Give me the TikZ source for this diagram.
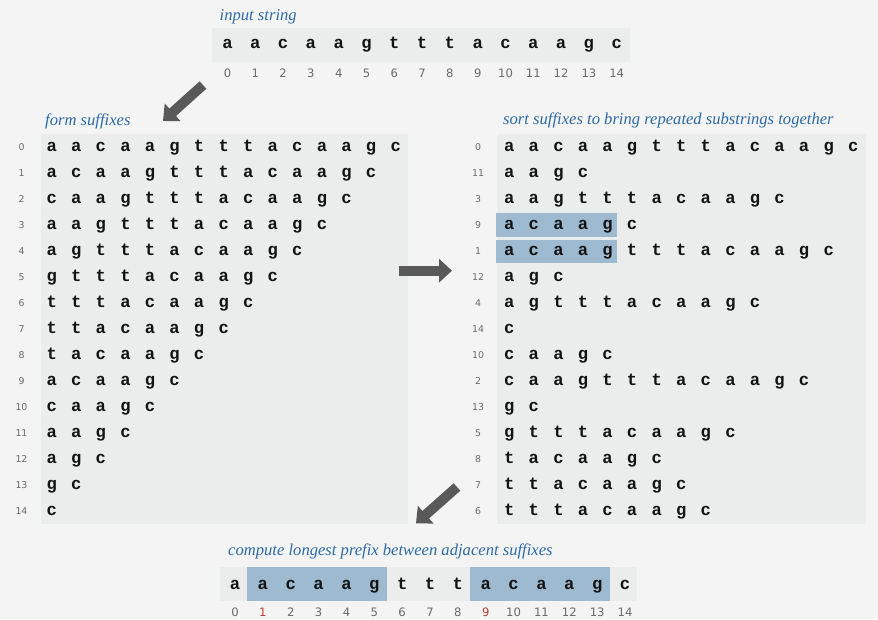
\documentclass[tikz,border=0pt]{standalone}
\usepackage{fontspec}
\setmainfont{Liberation Serif}
\newfontfamily\lettermono{Liberation Mono}
\newfontfamily\idxfont{DejaVu Sans}
\usetikzlibrary{arrows.meta}
\definecolor{bgcol}{HTML}{F4F4F4}
\definecolor{panelcol}{HTML}{EBECEC}
\definecolor{hicol}{HTML}{9EBAD0}
\definecolor{titlecol}{HTML}{2D6BA6}
\definecolor{idxcol}{HTML}{6A6A6A}
\definecolor{redidx}{HTML}{C43A3A}
\definecolor{arrowcol}{HTML}{595959}
\definecolor{lettercol}{HTML}{141414}
\tikzset{
  panel/.style={fill=panelcol, draw=none},
  hibox/.style={fill=hicol, draw=none},
  letter/.style={anchor=base, inner sep=0pt, text=lettercol, font=\lettermono\bfseries\fontsize{17.2}{19}\selectfont},
  bigidx/.style={anchor=base, inner sep=0pt, text=idxcol, font=\idxfont\fontsize{11.6}{13}\selectfont},
  smallidx/.style={anchor=base, inner sep=0pt, text=idxcol, font=\idxfont\fontsize{9.4}{11}\selectfont},
  title/.style={anchor=base west, inner sep=0pt, text=titlecol, font=\itshape\fontsize{16.6}{19}\selectfont},
  bigarrow/.style={draw=arrowcol, line width=10pt, -{Triangle[width=23pt,length=13pt]}}
}
\def\str{{"a","a","c","a","a","g","t","t","t","a","c","a","a","g","c"}}
\begin{document}
\begin{tikzpicture}[x=1pt, y=-1pt]
\useasboundingbox (0,0) rectangle (878,619);
\fill[bgcol] (0,0) rectangle (878,619);

% ---------- input string ----------
\node[title] (t-input) at (219.5,20) {input string};
\fill[panelcol] (212,28) rectangle (630,61.7);
\foreach \c [count=\i from 0] in {a,a,c,a,a,g,t,t,t,a,c,a,a,g,c} {
  \node[letter] (top-\i) at (227.5+27.8*\i, 48.3) {\c};
  \node[bigidx] (topi-\i) at (227.5+27.8*\i, 77.3) {\i};
}

% ---------- form suffixes ----------
\node[title] (t-form) at (45,125) {form suffixes};
\fill[panelcol] (40.7,134) rectangle (408,524);
\foreach \r in {0,...,14} {
  \node[smallidx] (li-\r) at (21.5, 150.5+26*\r) {\r};
  \pgfmathtruncatemacro\n{14-\r}
  \foreach \j in {0,...,\n} {
    \pgfmathtruncatemacro\k{\r+\j}
    \pgfmathparse{\str[\k]}\let\ch\pgfmathresult
    \node[letter] (L-\r-\j) at (51.7+24.57*\j, 151.7+26*\r) {\ch};
  }
}

% ---------- sorted suffixes ----------
\node[title] (t-sort) at (503,124.3) {sort suffixes to bring repeated substrings together};
\fill[panelcol] (496.7,134) rectangle (866,524);
\fill[hicol] (496,213.3) rectangle (616.7,236.7);
\fill[hicol] (496,239.6) rectangle (616.7,263.3);
\foreach \st [count=\r from 0] in {0,11,3,9,1,12,4,14,10,2,13,5,8,7,6} {
  \node[smallidx] (ri-\r) at (478, 150.5+26*\r) {\st};
  \pgfmathtruncatemacro\n{14-\st}
  \foreach \j in {0,...,\n} {
    \pgfmathtruncatemacro\k{\st+\j}
    \pgfmathparse{\str[\k]}\let\ch\pgfmathresult
    \node[letter] (R-\r-\j) at (509.3+24.57*\j, 151.7+26*\r) {\ch};
  }
}

% ---------- longest prefix ----------
\node[title] (t-lcp) at (228,555) {compute longest prefix between adjacent suffixes};
\fill[panelcol] (220,566.7) rectangle (637.3,600.7);
\fill[hicol] (246.7,566.7) rectangle (386.7,600.7);
\fill[hicol] (470,566.7) rectangle (610,600.7);
\foreach \c [count=\i from 0] in {a,a,c,a,a,g,t,t,t,a,c,a,a,g,c} {
  \node[letter] (bot-\i) at (235+27.86*\i, 589) {\c};
}
\foreach \i in {0,...,14} {
  \ifnum\i=1 \def\ic{redidx}\else\ifnum\i=9 \def\ic{redidx}\else\def\ic{idxcol}\fi\fi
  \node[bigidx, text=\ic] (boti-\i) at (235+27.86*\i, 616) {\i};
}

% ---------- arrows ----------
\coordinate (a1s) at (203,85);
\coordinate (a1e) at (163,121);
\coordinate (a2s) at (399,270.7);
\coordinate (a2e) at (452,270.7);
\coordinate (a3s) at (457,487);
\coordinate (a3e) at (416,523.3);
\draw[bigarrow] (a1s) -- (a1e);
\draw[bigarrow] (a2s) -- (a2e);
\draw[bigarrow] (a3s) -- (a3e);
\end{tikzpicture}
\end{document}
